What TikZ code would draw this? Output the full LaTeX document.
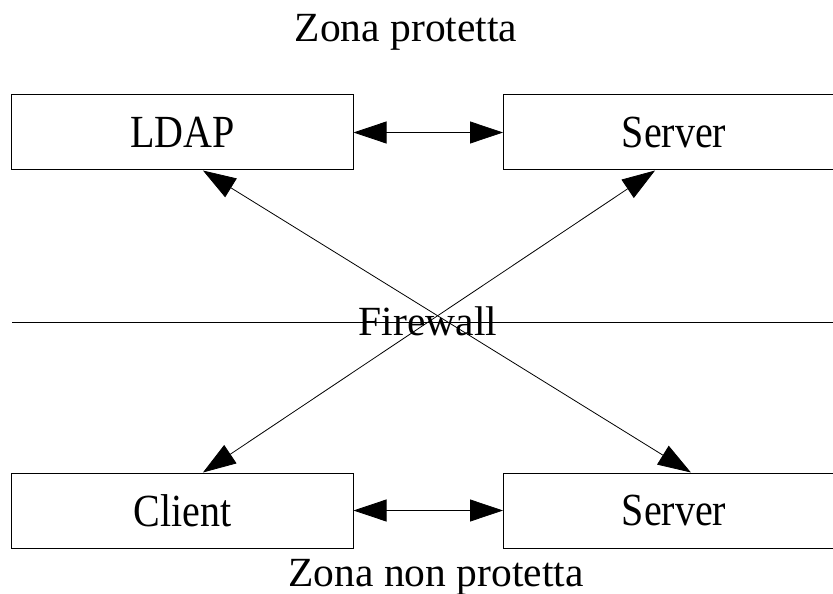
\documentclass[tikz,border=0pt]{standalone}
\usepackage{fontspec}
\setmainfont{Liberation Serif}
\newfontfamily\boxfont[FakeStretch=0.87]{Liberation Serif}
\usetikzlibrary{arrows.meta}
\tikzset{
  box/.style={draw, line width=1bp, minimum width=341bp, minimum height=75bp,
    inner sep=0pt, font=\boxfont\fontsize{46bp}{50bp}\selectfont},
  zone/.style={font=\fontsize{41.5bp}{46bp}\selectfont, inner sep=0pt, anchor=base},
  link/.style={line width=0.8bp, {Triangle[length=33bp,width=22bp]}-{Triangle[length=33bp,width=22bp]}},
}
\begin{document}
\begin{tikzpicture}[x=1bp, y=-1bp]
  \useasboundingbox (0,0) rectangle (833,594);
  % firewall boundary
  \coordinate (fwl) at (12,322);
  \coordinate (fwr) at (833,322);
  \draw[line width=1bp] (fwl) -- (fwr);
  \node[zone] (fw) at (428,335) {Firewall};
  % zone titles
  \node[zone] (top) at (406,42) {Zona protetta};
  \node[zone] (bot) at (436,586) {Zona non protetta};
  % hosts
  \node[box] (ldap) at (182.5,132.5) {LDAP};
  \node[box] (srvin) at (674,132.5) {Server};
  \node[box] (client) at (182.5,510.5) {Client};
  \node[box] (srvout) at (674,510.5) {Server};
  % connections
  \draw[link] (ldap) -- (srvin);
  \draw[link] (client) -- (srvout);
  \draw[link] ([xshift=20.5]ldap.south) -- ([xshift=17]srvout.north);
  \draw[link] ([xshift=-19]srvin.south) -- ([xshift=20.5]client.north);
\end{tikzpicture}
\end{document}
